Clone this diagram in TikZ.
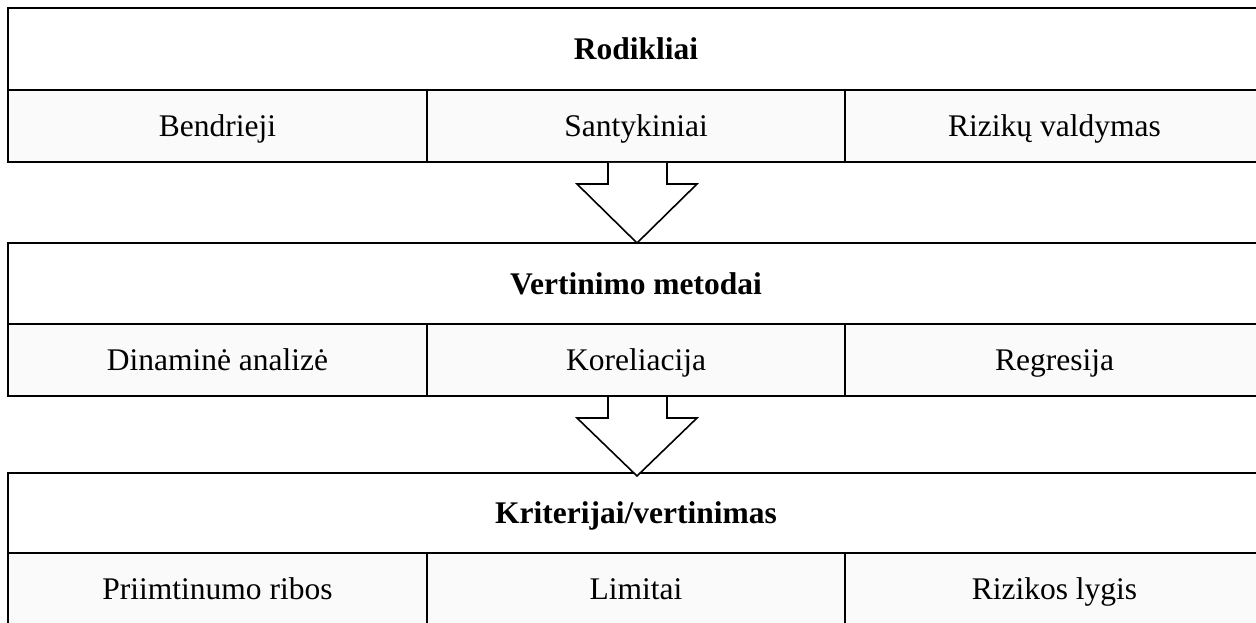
\documentclass[tikz,border=0pt]{standalone}
\usepackage{fontspec}
\setmainfont{Liberation Serif}
\definecolor{cellgray}{HTML}{FAFAFA}
\begin{document}
\begin{tikzpicture}[x=1pt,y=-1pt,
  cell/.style={draw=black,line width=1.6pt,rectangle,inner sep=0pt,outer sep=0pt,
    text height=21pt,text depth=0pt,
    font=\fontsize{31.5}{36}\selectfont},
  head/.style={cell,fill=white,font=\fontsize{31.5}{36}\selectfont\bfseries},
  sub/.style={cell,fill=cellgray},
  blockarrow/.style={draw=black,fill=white,line width=1.6pt,line join=miter}]
\useasboundingbox (0,0) rectangle (1256,623);
% Row 1
\node[head,minimum width=1256pt,minimum height=82pt] (h1) at (636,49) {Rodikliai};
\node[sub,minimum width=419pt,minimum height=72pt] (a1) at (217.5,126) {Bendrieji};
\node[sub,minimum width=418pt,minimum height=72pt] (b1) at (636,126) {Santykiniai};
\node[sub,minimum width=419pt,minimum height=72pt] (c1) at (1054.5,126) {Rizikų valdymas};
% Row 2
\node[head,minimum width=1256pt,minimum height=81pt] (h2) at (636,283.5) {Vertinimo metodai};
\node[sub,minimum width=419pt,minimum height=72pt] (a2) at (217.5,360) {Dinaminė analizė};
\node[sub,minimum width=418pt,minimum height=72pt] (b2) at (636,360) {Koreliacija};
\node[sub,minimum width=419pt,minimum height=72pt] (c2) at (1054.5,360) {Regresija};
% Row 3
\node[head,minimum width=1256pt,minimum height=80pt] (h3) at (636,513) {Kriterijai/vertinimas};
\node[sub,minimum width=419pt,minimum height=72pt] (a3) at (217.5,589) {Priimtinumo ribos};
\node[sub,minimum width=418pt,minimum height=72pt] (b3) at (636,589) {Limitai};
\node[sub,minimum width=419pt,minimum height=72pt] (c3) at (1054.5,589) {Rizikos lygis};
% Block arrows
\draw[blockarrow] (608,163) -- (608,184) -- (577,184) -- (637,243) -- (697,184) -- (667,184) -- (667,163);
\draw[blockarrow] (608,397) -- (608,418) -- (577,418) -- (637,476) -- (697,418) -- (667,418) -- (667,397);
\end{tikzpicture}
\end{document}
